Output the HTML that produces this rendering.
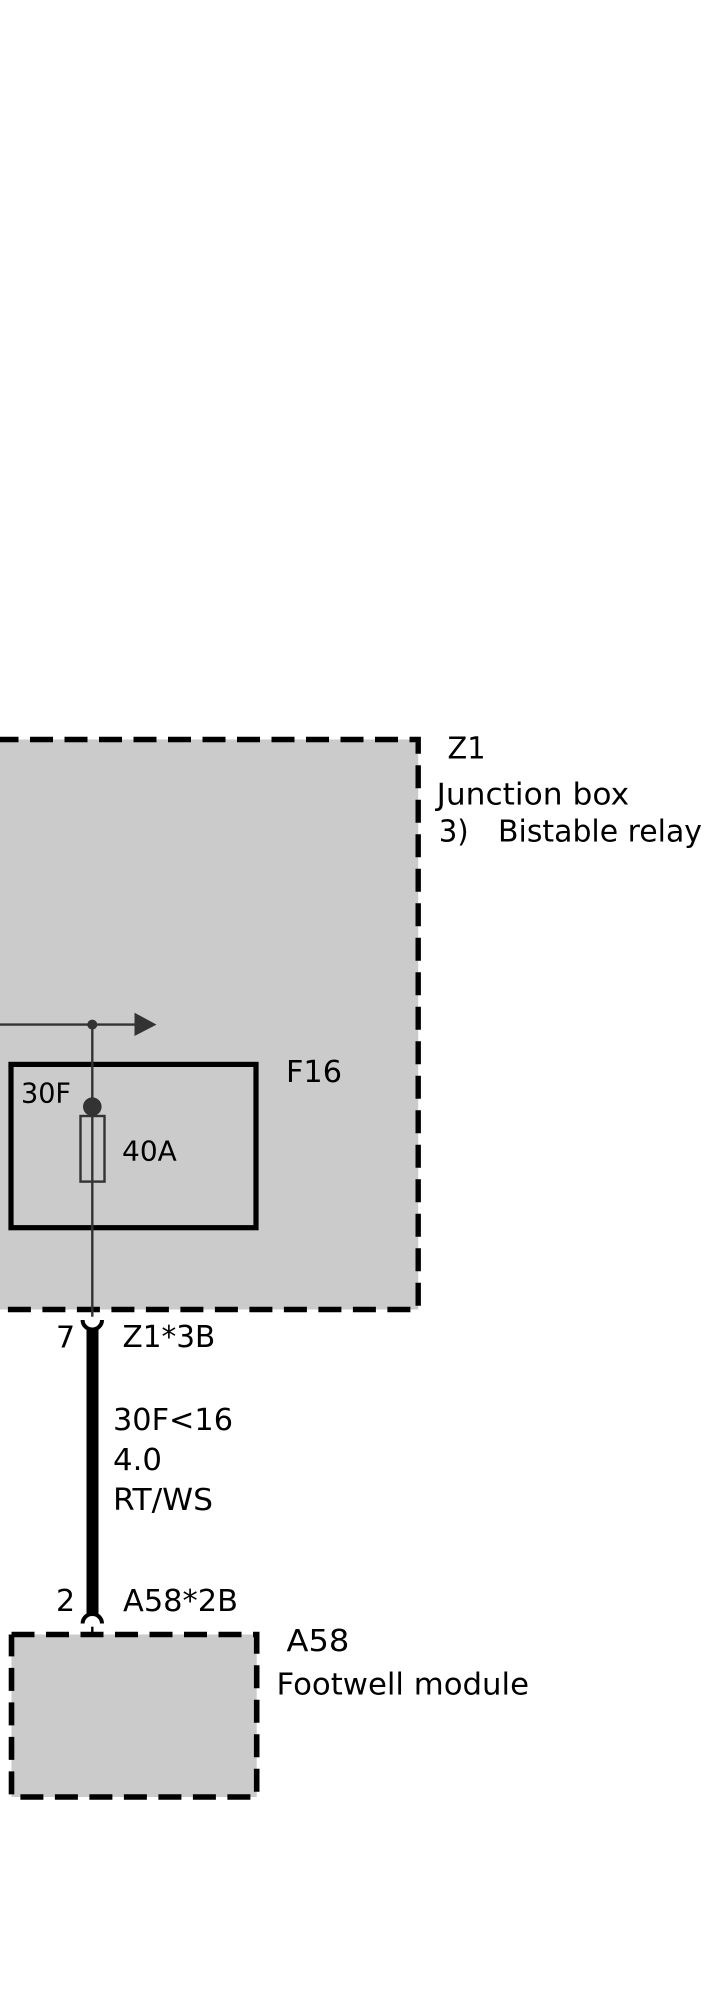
<!DOCTYPE html>
<html><head><meta charset="utf-8"><style>
html,body{margin:0;padding:0;background:#fff}
svg{display:block}
text{font-family:"DejaVu Sans",sans-serif;font-size:30px;fill:#000}
</style></head><body>
<svg xmlns="http://www.w3.org/2000/svg" width="708" height="1998" viewBox="0 0 708 1998">
<rect width="708" height="1998" fill="#fff"/>
<rect x="0" y="739.5" width="418.2" height="570" fill="#cbcbcb"/>
<path d="M-4.5,739.5H418.2V1309.5H-20" fill="none" stroke="#000" stroke-width="5.4" stroke-dasharray="23 11.5"/>
<rect x="11" y="1064.4" width="245" height="163.3" fill="none" stroke="#000" stroke-width="5.2"/>
<path d="M-5,1024.6H136" stroke="#333" stroke-width="2.4" fill="none"/>
<path d="M134.5,1012.7L156.5,1024.6L134.5,1036Z" fill="#333"/>
<circle cx="92.3" cy="1024.6" r="5" fill="#333"/>
<path d="M92.3,1024.6V1316.7" stroke="#333" stroke-width="2.4" fill="none"/>
<circle cx="92.3" cy="1106.7" r="9.3" fill="#333"/>
<rect x="80.5" y="1116" width="24" height="65.6" fill="none" stroke="#333" stroke-width="2.4"/>
<rect x="86.5" y="1329.5" width="12" height="286" fill="#000"/>
<path d="M82.6,1320A9.7,9.5 0 0 0 102,1320" fill="none" stroke="#000" stroke-width="4"/>
<path d="M82.6,1623.5A9.7,9.5 0 0 1 102,1623.5" fill="none" stroke="#000" stroke-width="4"/>
<path d="M92.3,1626.7V1634" stroke="#000" stroke-width="2.4"/>
<rect x="11.5" y="1634.5" width="245.2" height="162.5" fill="#cbcbcb"/>
<path d="M11.5,1634.5H256.7V1797H11.5V1634.5" fill="none" stroke="#000" stroke-width="5.6" stroke-dasharray="23 11.5"/>
<text x="447.5" y="758.3" textLength="38" lengthAdjust="spacingAndGlyphs">Z1</text>
<text x="436.6" y="804.3" textLength="192.5" lengthAdjust="spacingAndGlyphs">Junction box</text>
<text x="438.7" y="841.7" textLength="30" lengthAdjust="spacingAndGlyphs">3)</text>
<text x="498" y="841.7" textLength="204" lengthAdjust="spacingAndGlyphs">Bistable relay</text>
<text x="286" y="1082" textLength="56" lengthAdjust="spacingAndGlyphs">F16</text>
<text x="21" y="1102.6" style="font-size:28px" textLength="50" lengthAdjust="spacingAndGlyphs">30F</text>
<text x="122" y="1160.3" style="font-size:28px" textLength="54.8" lengthAdjust="spacingAndGlyphs">40A</text>
<text x="56" y="1347.7">7</text>
<text x="122.5" y="1347" textLength="92.8" lengthAdjust="spacingAndGlyphs">Z1*3B</text>
<text x="113" y="1430" textLength="120" lengthAdjust="spacingAndGlyphs">30F&lt;16</text>
<text x="113" y="1470" textLength="49" lengthAdjust="spacingAndGlyphs">4.0</text>
<text x="113" y="1510" textLength="100" lengthAdjust="spacingAndGlyphs">RT/WS</text>
<text x="56" y="1611.2">2</text>
<text x="123" y="1611.2" textLength="115" lengthAdjust="spacingAndGlyphs">A58*2B</text>
<text x="286.5" y="1651" textLength="62.8" lengthAdjust="spacingAndGlyphs">A58</text>
<text x="276.5" y="1694.3" textLength="252.5" lengthAdjust="spacingAndGlyphs">Footwell module</text>
</svg>
</body></html>
